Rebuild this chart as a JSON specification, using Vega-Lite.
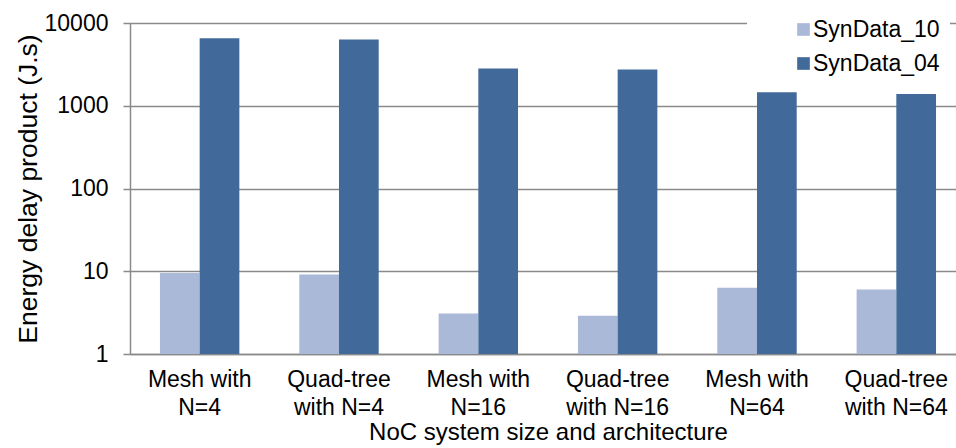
{
  "$schema": "https://vega.github.io/schema/vega-lite/v6.json",
  "width": 826,
  "height": 331,
  "autosize": {"type": "none"},
  "padding": {"left": 130, "top": 23, "right": 0, "bottom": 94},
  "background": "white",
  "config": {
    "view": {"stroke": null},
    "font": "Liberation Sans"
  },
  "data": {
    "values": [
      {"architecture": "Mesh with N=4", "dataset": "SynData_10", "edp": 9.5},
      {"architecture": "Mesh with N=4", "dataset": "SynData_04", "edp": 6560},
      {"architecture": "Quad-tree with N=4", "dataset": "SynData_10", "edp": 9.15},
      {"architecture": "Quad-tree with N=4", "dataset": "SynData_04", "edp": 6310},
      {"architecture": "Mesh with N=16", "dataset": "SynData_10", "edp": 3.08},
      {"architecture": "Mesh with N=16", "dataset": "SynData_04", "edp": 2820},
      {"architecture": "Quad-tree with N=16", "dataset": "SynData_10", "edp": 2.89},
      {"architecture": "Quad-tree with N=16", "dataset": "SynData_04", "edp": 2740},
      {"architecture": "Mesh with N=64", "dataset": "SynData_10", "edp": 6.3},
      {"architecture": "Mesh with N=64", "dataset": "SynData_04", "edp": 1460},
      {"architecture": "Quad-tree with N=64", "dataset": "SynData_10", "edp": 6.0},
      {"architecture": "Quad-tree with N=64", "dataset": "SynData_04", "edp": 1390}
    ]
  },
  "mark": {"type": "bar"},
  "encoding": {
    "x": {
      "field": "architecture",
      "type": "nominal",
      "sort": ["Mesh with N=4", "Quad-tree with N=4", "Mesh with N=16", "Quad-tree with N=16", "Mesh with N=64", "Quad-tree with N=64"],
      "scale": {"range": [0, 836], "paddingInner": 0.43, "paddingOuter": 0.215},
      "title": "NoC system size and architecture",
      "axis": {
        "labelExpr": "[slice(datum.label, 0, 9), slice(datum.label, 10)]",
        "labelAngle": 0,
        "labelFontSize": 23,
        "labelColor": "#000000",
        "labelLineHeight": 28,
        "labelPadding": 14,
        "ticks": false,
        "domainColor": "#8a8a8a",
        "domainWidth": 1.5,
        "titleFontSize": 24,
        "titleFontWeight": "normal",
        "titleColor": "#000000",
        "titlePadding": 1
      }
    },
    "xOffset": {
      "field": "dataset",
      "type": "nominal",
      "sort": ["SynData_10", "SynData_04"],
      "scale": {"range": [0, 79.4], "paddingInner": 0, "paddingOuter": 0}
    },
    "y": {
      "field": "edp",
      "type": "quantitative",
      "scale": {"type": "log", "domain": [1, 10000]},
      "title": "Energy delay product (J.s)",
      "axis": {
        "values": [1, 10, 100, 1000, 10000],
        "format": "d",
        "grid": true,
        "gridColor": "#8a8a8a",
        "gridWidth": 1.5,
        "domainColor": "#8a8a8a",
        "domainWidth": 1.5,
        "tickColor": "#8a8a8a",
        "tickWidth": 1.5,
        "tickSize": 7,
        "labelFontSize": 23,
        "labelColor": "#000000",
        "labelPadding": 15,
        "titleFontSize": 26.5,
        "titleFontWeight": "normal",
        "titleColor": "#000000",
        "titlePadding": 2
      }
    },
    "y2": {"datum": 1},
    "color": {
      "field": "dataset",
      "type": "nominal",
      "scale": {"domain": ["SynData_10", "SynData_04"], "range": ["#aab9d7", "#416a9a"]},
      "legend": {
        "orient": "none",
        "legendX": 617,
        "legendY": -15,
        "fillColor": "white",
        "padding": 10,
        "symbolOffset": 35,
        "title": null,
        "labelFontSize": 23,
        "labelColor": "#000000",
        "labelOffset": -2,
        "symbolType": "square",
        "symbolSize": 160,
        "symbolStrokeWidth": 0,
        "rowPadding": 10
      }
    }
  }
}
